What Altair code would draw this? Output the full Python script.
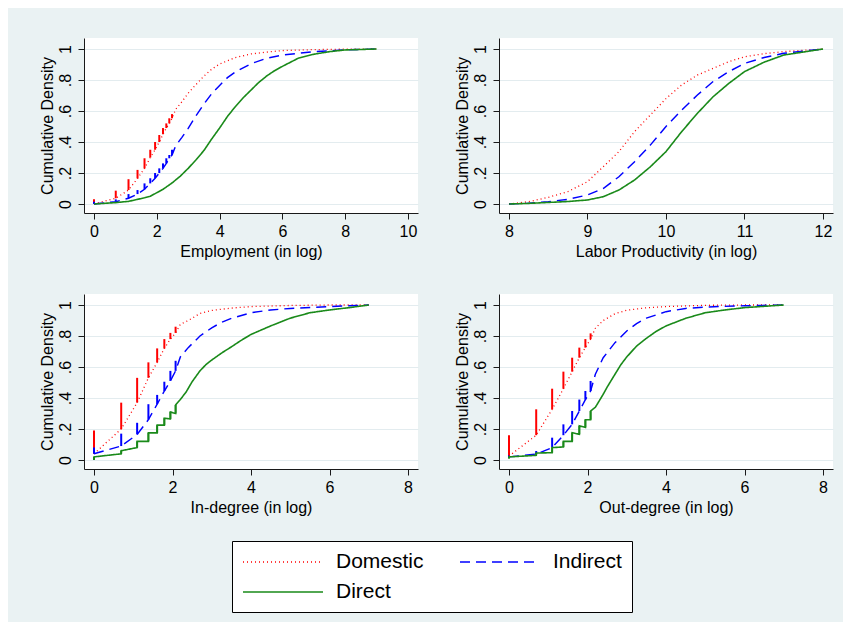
import altair as alt
import pandas as pd

SERIES = ["Domestic", "Indirect", "Direct"]
COLORS = ["#FF0000", "#0000FF", "#1A8A1A"]
DASHES = [[1, 3], [10, 6], [1, 0]]
WIDTHS = [1.3, 1.6, 1.6]

# discrete jump positions: ln(1) .. ln(12)
STEP_X = [0.0, 0.693, 1.099, 1.386, 1.609, 1.792, 1.946, 2.079, 2.197, 2.303, 2.398, 2.485]

# ---------- Employment (in log) ----------
EMP_DOM_LO = [0.0, 0.037, 0.09, 0.165, 0.23, 0.30, 0.35, 0.40, 0.45, 0.49, 0.52, 0.553]
EMP_DOM_HI = [0.03, 0.086, 0.16, 0.22, 0.295, 0.35, 0.40, 0.445, 0.49, 0.52, 0.553, 0.58]
EMP_DOM_TX = [2.6, 2.8, 3.0, 3.2, 3.5, 3.75, 4.0, 4.5, 5.0, 5.5, 6.0, 7.0, 8.0, 9.0]
EMP_DOM_TY = [0.61, 0.66, 0.715, 0.76, 0.825, 0.87, 0.903, 0.945, 0.968, 0.98, 0.99, 0.996, 0.999, 1.0]
EMP_IND_LO = [0.0, 0.015, 0.037, 0.064, 0.095, 0.133, 0.166, 0.2, 0.23, 0.262, 0.295, 0.316]
EMP_IND_HI = [0.015, 0.03, 0.064, 0.09, 0.133, 0.166, 0.2, 0.23, 0.262, 0.295, 0.316, 0.35]
EMP_IND_TX = [2.6, 2.8, 3.0, 3.25, 3.5, 3.75, 4.0, 4.25, 4.5, 5.0, 5.5, 6.0, 7.0, 8.0, 9.0]
EMP_IND_TY = [0.375, 0.43, 0.488, 0.57, 0.645, 0.712, 0.765, 0.815, 0.852, 0.905, 0.94, 0.961, 0.983, 0.994, 1.0]
EMP_DIR_LO = []
EMP_DIR_HI = []
EMP_DIR_TX = [0.0, 0.693, 1.099, 1.386, 1.609, 1.792, 2.0, 2.2, 2.5, 2.75, 3.0, 3.25, 3.5, 3.75, 4.0,
              4.25, 4.5, 4.75, 5.0, 5.25, 5.5, 5.75, 6.0, 6.5, 7.0, 7.5, 8.0, 9.0]
EMP_DIR_TY = [0.0, 0.009, 0.017, 0.03, 0.04, 0.05, 0.073, 0.095, 0.138, 0.18, 0.23, 0.285, 0.345, 0.42, 0.49,
              0.565, 0.628, 0.685, 0.735, 0.785, 0.826, 0.86, 0.888, 0.94, 0.966, 0.983, 0.994, 1.0]

# ---------- Labor Productivity (in log) ----------
LP_X = [8.0, 8.25, 8.5, 8.75, 9.0, 9.2, 9.4, 9.6, 9.8, 10.0, 10.2, 10.4, 10.6, 10.8, 11.0, 11.25, 11.5, 12.0]
LP_DOM = [0.0, 0.015, 0.043, 0.08, 0.144, 0.24, 0.338, 0.467, 0.574, 0.68, 0.768, 0.832, 0.875, 0.918, 0.95, 0.97, 0.983, 1.0]
LP_IND = [0.0, 0.005, 0.015, 0.03, 0.058, 0.1, 0.176, 0.273, 0.38, 0.5, 0.606, 0.703, 0.79, 0.854, 0.907, 0.945, 0.972, 1.0]
LP_DIR = [0.0, 0.004, 0.01, 0.016, 0.026, 0.047, 0.09, 0.155, 0.24, 0.338, 0.467, 0.585, 0.692, 0.778, 0.854, 0.915, 0.961, 1.0]

# ---------- In-degree (in log) ----------
IN_DOM_LO = [0.04, 0.20, 0.37, 0.53, 0.63, 0.72, 0.78, 0.82]
IN_DOM_HI = [0.19, 0.37, 0.53, 0.63, 0.72, 0.78, 0.82, 0.86]
IN_DOM_TX = [2.2, 2.4, 2.7, 3.0, 3.5, 4.0, 5.0, 6.0, 7.0]
IN_DOM_TY = [0.875, 0.9, 0.945, 0.965, 0.98, 0.99, 0.997, 1.0, 1.0]
IN_IND_LO = [0.04, 0.09, 0.165, 0.26, 0.36, 0.445, 0.51, 0.575]
IN_IND_HI = [0.08, 0.17, 0.24, 0.36, 0.42, 0.505, 0.575, 0.64]
IN_IND_TX = [2.2, 2.4, 2.7, 3.0, 3.25, 3.5, 4.0, 4.5, 5.0, 6.0, 7.0]
IN_IND_TY = [0.665, 0.725, 0.80, 0.853, 0.888, 0.914, 0.95, 0.968, 0.978, 0.99, 1.0]
IN_DIR_LO = [0.0, 0.04, 0.08, 0.12, 0.175, 0.225, 0.265, 0.30]
IN_DIR_HI = [0.02, 0.06, 0.12, 0.175, 0.225, 0.27, 0.31, 0.355]
IN_DIR_TX = [2.2, 2.35, 2.5, 2.7, 2.85, 3.0, 3.25, 3.5, 3.75, 4.0, 4.5, 5.0, 5.5, 6.0, 6.5, 7.0]
IN_DIR_TY = [0.39, 0.44, 0.505, 0.575, 0.615, 0.645, 0.69, 0.73, 0.772, 0.81, 0.865, 0.915, 0.95, 0.968, 0.983, 1.0]

# ---------- Out-degree (in log) ----------
OUT_DOM_LO = [0.025, 0.16, 0.327, 0.46, 0.57, 0.66, 0.725, 0.78]
OUT_DOM_HI = [0.16, 0.327, 0.46, 0.57, 0.66, 0.725, 0.78, 0.817]
OUT_DOM_TX = [2.2, 2.4, 2.7, 3.0, 3.5, 4.0, 5.0, 6.0, 7.0]
OUT_DOM_TY = [0.85, 0.90, 0.944, 0.966, 0.982, 0.99, 0.998, 1.0, 1.0]
OUT_IND_LO = [0.02, 0.038, 0.08, 0.16, 0.23, 0.316, 0.39, 0.445]
OUT_IND_HI = [0.03, 0.058, 0.144, 0.23, 0.316, 0.39, 0.445, 0.51]
OUT_IND_TX = [2.2, 2.4, 2.7, 3.0, 3.25, 3.5, 4.0, 4.5, 5.0, 6.0, 7.0]
OUT_IND_TY = [0.553, 0.66, 0.757, 0.832, 0.88, 0.915, 0.957, 0.978, 0.987, 0.995, 1.0]
OUT_DIR_LO = [0.01, 0.03, 0.047, 0.084, 0.12, 0.166, 0.21, 0.26]
OUT_DIR_HI = [0.02, 0.045, 0.08, 0.12, 0.176, 0.22, 0.26, 0.316]
OUT_DIR_TX = [2.2, 2.4, 2.5, 2.7, 2.85, 3.0, 3.25, 3.5, 3.75, 4.0, 4.5, 5.0, 5.5, 6.0, 7.0]
OUT_DIR_TY = [0.34, 0.424, 0.47, 0.553, 0.615, 0.665, 0.735, 0.785, 0.83, 0.865, 0.914, 0.95, 0.968, 0.983, 1.0]

Y_TICKS = [0, 0.2, 0.4, 0.6, 0.8, 1.0]
FONT = "Liberation Sans"


def build(series_specs):
    line_rows, rule_rows = [], []
    for name, lo, hi, tx, ty in series_specs:
        i = 0
        for k in range(len(lo)):
            line_rows.append({"series": name, "i": i, "x": STEP_X[k], "y": lo[k]}); i += 1
            if name == "Direct":
                line_rows.append({"series": name, "i": i, "x": STEP_X[k], "y": hi[k]}); i += 1
            rule_rows.append({"series": name, "x": STEP_X[k], "lo": lo[k], "hi": hi[k]})
        for xv, yv in zip(tx, ty):
            line_rows.append({"series": name, "i": i, "x": xv, "y": yv}); i += 1
    return pd.DataFrame(line_rows), pd.DataFrame(rule_rows, columns=["series", "x", "lo", "hi"])


legend = alt.Legend(
    orient="none", legendX=148, legendY=503, direction="horizontal", columns=2,
    title=None, symbolType="M-1,0H7", symbolSize=400, symbolStrokeWidth=1.6,
    labelFontSize=21, labelFont=FONT, labelColor="black", labelOffset=72,
    columnPadding=33, rowPadding=9, padding=10, strokeColor="black",
    fillColor="white", cornerRadius=0,
)


def panel(specs, xtitle, xmin, xmax, xticks):
    lines, rules = build(specs)
    pad = 10 * (xmax - xmin) / 314
    xscale = alt.Scale(domain=[xmin - pad, xmax + pad], nice=False, zero=False)
    yscale = alt.Scale(domain=[-9 / 155, 1 + 11 / 155], nice=False, zero=False)
    xaxis = alt.Axis(values=xticks, title=xtitle, grid=False, tickSize=6, labelPadding=4,
                     labelFlush=False, labelOverlap=False, titleY=43, titleBaseline="alphabetic")
    yaxis = alt.Axis(values=Y_TICKS, title="Cumulative Density", grid=True, tickSize=6,
                     labelAngle=270, labelAlign="center", labelBaseline="alphabetic",
                     labelPadding=7.5, labelFlush=False, labelOverlap=False,
                     labelExpr="datum.value == 0 ? '0' : datum.value >= 1 ? '1' : '.' + round(datum.value * 10)",
                     titleX=-32, titleAngle=270, titleBaseline="alphabetic")
    color = alt.Color("series:N", scale=alt.Scale(domain=SERIES, range=COLORS), legend=legend, sort=SERIES)
    line = alt.Chart(lines).mark_line().encode(
        x=alt.X("x:Q", scale=xscale, axis=xaxis),
        y=alt.Y("y:Q", scale=yscale, axis=yaxis),
        color=color,
        strokeDash=alt.StrokeDash("series:N", scale=alt.Scale(domain=SERIES, range=DASHES), legend=legend, sort=SERIES),
        strokeWidth=alt.StrokeWidth("series:N", scale=alt.Scale(domain=SERIES, range=WIDTHS), legend=None),
        order=alt.Order("i:Q"),
        detail="series:N",
    )
    layers = [line]
    if len(rules):
        rule = alt.Chart(rules).mark_rule(strokeWidth=2).encode(
            x=alt.X("x:Q", scale=xscale, axis=xaxis),
            y=alt.Y("lo:Q", scale=yscale, axis=yaxis),
            y2="hi:Q",
            color=color,
        )
        layers = [rule, line]
    return alt.layer(*layers).properties(width=334, height=175)


p1 = panel([
    ("Domestic", EMP_DOM_LO, EMP_DOM_HI, EMP_DOM_TX, EMP_DOM_TY),
    ("Indirect", EMP_IND_LO, EMP_IND_HI, EMP_IND_TX, EMP_IND_TY),
    ("Direct", EMP_DIR_LO, EMP_DIR_HI, EMP_DIR_TX, EMP_DIR_TY),
], "Employment (in log)", 0, 10, [0, 2, 4, 6, 8, 10])

p2 = panel([
    ("Domestic", [], [], LP_X, LP_DOM),
    ("Indirect", [], [], LP_X, LP_IND),
    ("Direct", [], [], LP_X, LP_DIR),
], "Labor Productivity (in log)", 8, 12, [8, 9, 10, 11, 12])

p3 = panel([
    ("Domestic", IN_DOM_LO, IN_DOM_HI, IN_DOM_TX, IN_DOM_TY),
    ("Indirect", IN_IND_LO, IN_IND_HI, IN_IND_TX, IN_IND_TY),
    ("Direct", IN_DIR_LO, IN_DIR_HI, IN_DIR_TX, IN_DIR_TY),
], "In-degree (in log)", 0, 8, [0, 2, 4, 6, 8])

p4 = panel([
    ("Domestic", OUT_DOM_LO, OUT_DOM_HI, OUT_DOM_TX, OUT_DOM_TY),
    ("Indirect", OUT_IND_LO, OUT_IND_HI, OUT_IND_TX, OUT_IND_TY),
    ("Direct", OUT_DIR_LO, OUT_DIR_HI, OUT_DIR_TX, OUT_DIR_TY),
], "Out-degree (in log)", 0, 8, [0, 2, 4, 6, 8])

chart = alt.concat(p1, p2, p3, p4, columns=2, spacing=81, bounds="flush").properties(
    background="#EAF2F3",
    padding={"left": 31, "top": 30, "right": 10, "bottom": 9},
).configure(font=FONT).configure_view(
    fill="white", strokeWidth=0,
).configure_axis(
    domainColor="#1a1a1a", tickColor="#1a1a1a", tickWidth=1, domainWidth=1,
    labelFont=FONT, titleFont=FONT, labelFontSize=16, titleFontSize=16,
    labelColor="black", titleColor="black", titleFontWeight="normal",
    gridColor="#E3ECEF", gridWidth=1,
)

chart.save("out.html", embed_options={"renderer": "svg", "actions": False})
